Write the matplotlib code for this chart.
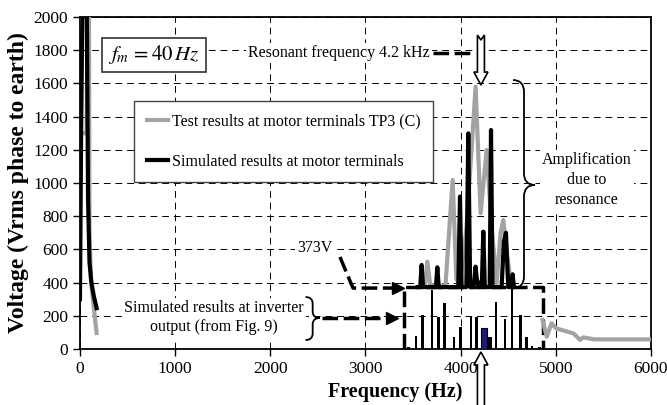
import numpy as np
import matplotlib
matplotlib.use('Agg')
import matplotlib.pyplot as plt
from matplotlib.path import Path
from matplotlib.patches import PathPatch, Polygon
from matplotlib import transforms

plt.rcParams['font.family'] = ['Liberation Serif', 'DejaVu Serif']
plt.rcParams['mathtext.fontset'] = 'stix'

# Test results at motor terminals (grey)
test_low_f = [0, 5, 10, 70, 85, 92, 100, 115, 135, 155, 175]
test_low_v = [2600, 2600, 1300, 1300, 2600, 2600, 700, 420, 300, 200, 96]
test_res_f = [3600, 3625, 3650, 3680, 3840, 3916, 3955, 3990, 4060, 4157, 4210,
              4273, 4330, 4378, 4420, 4448, 4490, 4530]
test_res_v = [373, 380, 526, 385, 380, 1018, 420, 390, 720, 1580, 818,
              1199, 700, 397, 700, 777, 560, 380]
test_high_f = [4860, 4905, 4955, 5000, 5100, 5185, 5255, 5290, 5400, 6000]
test_high_v = [175, 74, 155, 125, 108, 94, 55, 70, 58, 58]

# Simulated results at motor terminals (black)
sim_low_f = [0, 12, 35, 50, 65, 85, 100, 120, 145, 175]
sim_low_v = [300, 1300, 2600, 2600, 2600, 900, 520, 400, 320, 246]
sim_res_f = [3550, 3575, 3590, 3605, 3740, 3755, 3770, 3975, 3993, 4010, 4060, 4080,
             4100, 4130, 4145, 4157, 4170, 4185, 4200, 4222, 4238, 4254, 4290, 4305,
             4319, 4335, 4430, 4455, 4476, 4500, 4530, 4546, 4560]
sim_res_v = [373, 373, 506, 373, 373, 492, 373, 373, 918, 373, 373, 1299,
             373, 373, 420, 496, 420, 373, 400, 373, 707, 373, 373, 373,
             1319, 373, 373, 650, 700, 373, 373, 450, 373]

# Simulated results at inverter output (bars)
inv_f = [3450, 3531, 3601, 3700, 3765, 3830, 3930, 4000, 4108, 4168, 4370,
         4466, 4540, 4632, 4693, 4750, 4830]
inv_v = [12, 78, 205, 355, 191, 279, 74, 134, 195, 195, 285,
         179, 440, 205, 70, 20, 12]
inv_block_f = [4305]
inv_block_v = [70]
inv_fund_f = [4245]
inv_fund_v = [124]

GREY = '#a3a3a3'
DASH = (0, (4.5, 1.6))
WHITE_BOX = dict(fc='white', ec='none', pad=1.5)

fig = plt.figure(figsize=(6.67, 4.05), dpi=100)
ax = fig.add_axes([0.1199, 0.1383, 0.8561, 0.8198])
ax.set_xlim(0, 6000)
ax.set_ylim(0, 2000)
ax.set_xticks(range(0, 6001, 1000))
ax.set_yticks(range(0, 2001, 200))
ax.grid(True, color='black', lw=0.7, linestyle=(0, (7, 5)))
ax.set_axisbelow(True)
ax.tick_params(direction='out', length=5, width=1, labelsize=12.5)
for s in ax.spines.values():
    s.set_linewidth(1.3)

ax.set_xlabel('Frequency (Hz)', fontsize=14.5, fontweight='bold')
ax.xaxis.set_label_coords(0.552, -0.1)
ax.set_ylabel('Voltage (Vrms phase to earth)', fontsize=17, fontweight='bold')
ax.yaxis.set_label_coords(-0.089, 0.5)

# inverter output bars
ax.bar(inv_f, inv_v, width=28, color='black', zorder=3)
ax.bar(inv_block_f, inv_block_v, width=45, color='black', zorder=3)
ax.bar(inv_fund_f, inv_fund_v, width=65, color='#1c1c78', edgecolor='black', lw=0.8, zorder=3)

# dashed box round the inverter spectrum
ax.plot([3404, 3404, 4868, 4868], [0, 373, 373, 0], color='black', lw=2.5,
        linestyle=DASH, zorder=3, clip_on=False)

# measured and simulated curves
l1, = ax.plot(test_low_f, test_low_v, color=GREY, lw=3, zorder=4)
ax.plot(test_res_f, test_res_v, color=GREY, lw=3, zorder=4)
ax.plot(test_high_f, test_high_v, color=GREY, lw=3, zorder=4)
l2, = ax.plot(sim_low_f, sim_low_v, color='black', lw=3, zorder=5)
ax.plot(sim_res_f, sim_res_v, color='black', lw=3, zorder=5)

leg = ax.legend([l1, l2], ['Test results at motor terminals TP3 (C)',
                           'Simulated results at motor terminals'],
                loc='upper left', bbox_to_anchor=(0.0946, 0.747), borderaxespad=0,
                fontsize=11.5, frameon=True, fancybox=False, framealpha=1,
                edgecolor='#444444', handlelength=1.3, handletextpad=0.25,
                labelspacing=1.5, borderpad=0.8)
leg.get_frame().set_linewidth(1.0)
leg.set_zorder(6)

ax.text(778, 1771, r'$f_m\,=40\,Hz$', fontsize=15, ha='center', va='center',
        bbox=dict(boxstyle='square,pad=0.28', fc='white', ec='#333333', lw=1.2), zorder=6)


def brace(x0, x1, ylo, yhi, ymid, r):
    xm = (x0 + x1) / 2
    verts = [(x0, yhi), (xm, yhi), (xm, yhi - r), (xm, ymid + r), (xm, ymid), (x1, ymid),
             (xm, ymid), (xm, ymid - r), (xm, ylo + r), (xm, ylo), (x0, ylo)]
    codes = [Path.MOVETO, Path.CURVE3, Path.CURVE3, Path.LINETO, Path.CURVE3, Path.CURVE3,
             Path.CURVE3, Path.CURVE3, Path.LINETO, Path.CURVE3, Path.CURVE3]
    ax.add_patch(PathPatch(Path(verts, codes), fc='none', ec='black', lw=1.3,
                           zorder=6, clip_on=False))


def block_arrow(x, y, length, up):
    # outline arrow, tip at (x, y); sizes in pixels
    s = -1 if up else 1
    pts = [(0, 0), (-7, 13), (-3.5, 13), (-3.5, length), (0, length - 5),
           (3.5, length), (3.5, 13), (7, 13)]
    pts = [(px / 100, s * py / 100) for px, py in pts]
    tr = fig.dpi_scale_trans + transforms.ScaledTranslation(x, y, ax.transData)
    ax.add_patch(Polygon(pts, closed=True, fc='white', ec='black', lw=1.2,
                         transform=tr, clip_on=False, zorder=7))


# resonant frequency note
ax.text(3675, 1783, 'Resonant frequency 4.2 kHz', fontsize=11.5, ha='right', va='center',
        bbox=WHITE_BOX, zorder=6)
ax.plot([3710, 4150], [1783, 1783], color='black', lw=2.5, linestyle=DASH, zorder=6)
block_arrow(4213, 1590, 50, up=False)
block_arrow(4213, -18, 60, up=True)

# amplification note
brace(4550, 4781, 367, 1620, 988, 70)
ax.text(5327, 1018, 'Amplification\ndue to\nresonance', fontsize=11.5, ha='center',
        va='center', linespacing=1.3, bbox=WHITE_BOX, zorder=6)

# 373 V note
ax.text(2280, 608, '373V', fontsize=11.5, ha='left', va='center', bbox=WHITE_BOX, zorder=6)
ax.plot([2732, 2869, 3330], [554, 367, 367], color='black', lw=2.5, linestyle=DASH, zorder=6)
ax.plot([3345], [367], marker='>', color='black', ms=8, zorder=6)

# inverter output note
ax.text(1408, 187, 'Simulated results at inverter\noutput (from Fig. 9)', fontsize=11.5,
        ha='center', va='center', linespacing=1.25, bbox=WHITE_BOX, zorder=6)
brace(2370, 2520, 54, 313, 187, 40)
ax.plot([2545, 3260], [187, 187], color='black', lw=2.5, linestyle=DASH, zorder=6)
ax.plot([3280], [187], marker='>', color='black', ms=8, zorder=6)

fig.savefig('out.png', dpi=100)
